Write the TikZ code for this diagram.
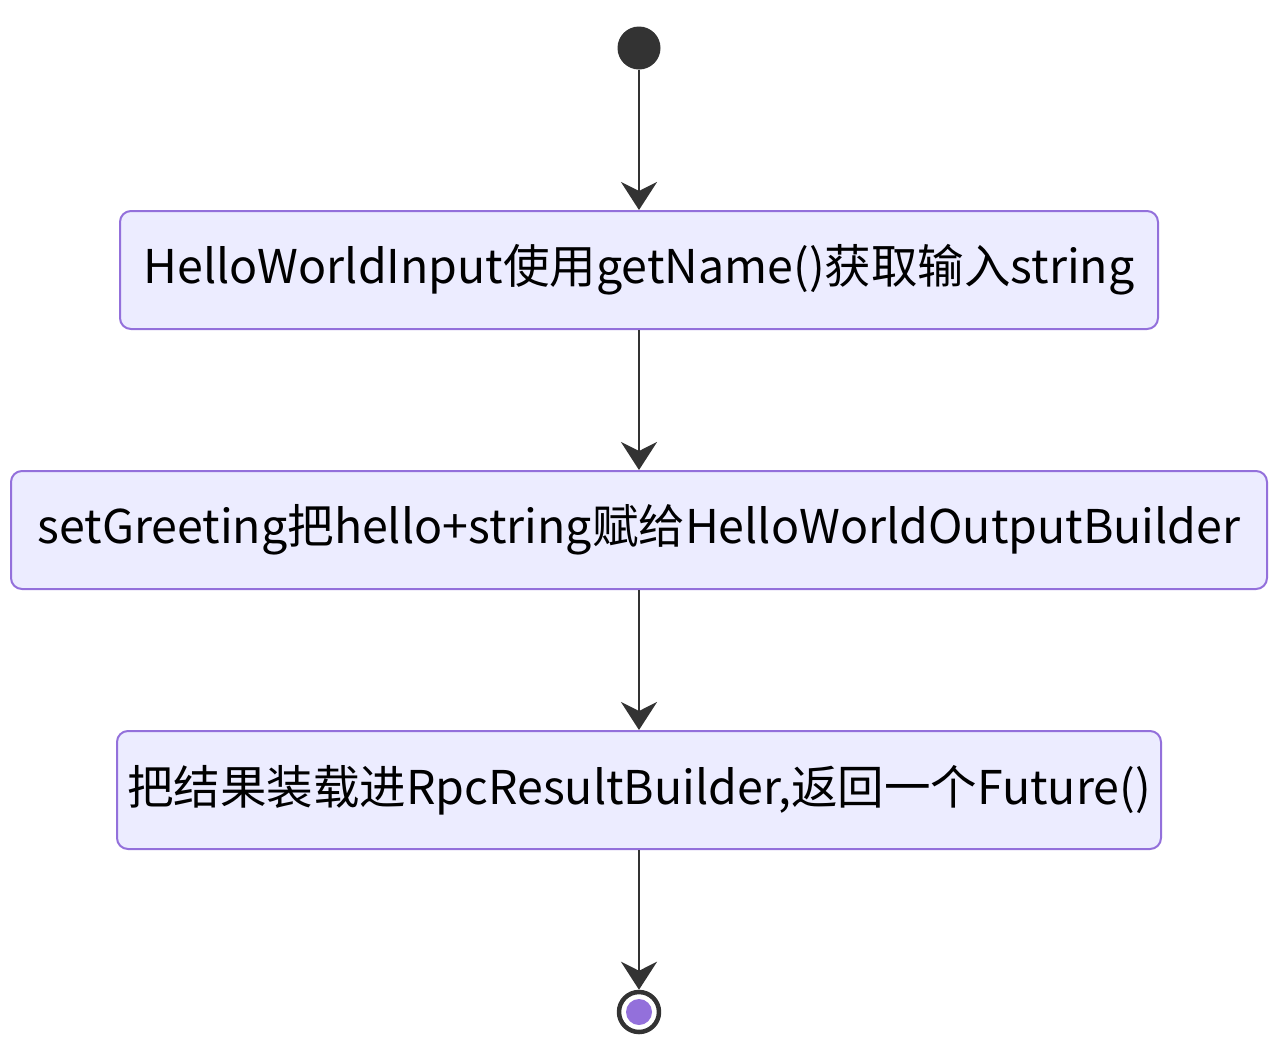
\documentclass[tikz,border=0pt]{standalone}
\usepackage{fontspec}
\setmainfont{Noto Sans CJK SC}
\usetikzlibrary{arrows.meta}
\definecolor{boxfill}{HTML}{ECECFF}
\definecolor{boxline}{HTML}{9370DB}
\definecolor{dark}{HTML}{333333}
\tikzset{
  actbox/.style={draw=boxline, fill=boxfill, line width=2pt, rounded corners=11pt,
    minimum height=118pt, inner sep=0pt, font=\fontsize{46.5}{54}\selectfont},
  flow/.style={draw=dark, line width=2.5pt, -{Stealth[length=28pt, width=36pt, inset=9pt]}}
}
\begin{document}
\begin{tikzpicture}[x=1pt, y=-1pt, line join=round]
			\useasboundingbox (0,0) rectangle (1282,1047);
			% start and end
			\node[circle, fill=dark, minimum size=43pt, inner sep=0pt] (start) at (639,48) {};
			\node[circle, draw=dark, line width=4.5pt, fill=white, minimum size=40pt, inner sep=0pt] (stop) at (639,1012) {};
			\fill[boxline] (stop) circle (13pt);
			% activities
			\node[actbox, minimum width=1038pt] (input) at (639,270) {HelloWorldInput使用getName()获取输入string};
			\node[actbox, minimum width=1256pt] (greet) at (639,530) {setGreeting把hello+string赋给HelloWorldOutputBuilder};
			\node[actbox, minimum width=1044pt] (result) at (639,790) {把结果装载进RpcResultBuilder,返回一个Future()};
			% transitions
			\foreach \a/\b in {start/input, input/greet, greet/result, result/stop}
				\draw[flow] (\a) -- (\b);
\end{tikzpicture}
\end{document}
